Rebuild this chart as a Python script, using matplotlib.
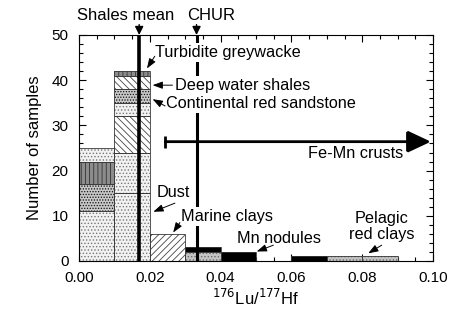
"""Histogram of 176Lu/177Hf in sediments, stacked by sample type."""
import matplotlib

matplotlib.use("Agg")
import matplotlib.pyplot as plt
from matplotlib.ticker import MultipleLocator

plt.rcParams["font.family"] = ["Liberation Sans", "DejaVu Sans"]
plt.rcParams["hatch.linewidth"] = 0.6

# bins of width 0.01 (left edges) and stacked counts, bottom layer first
bin_width = 0.01
bin_left = [0.00, 0.01, 0.02, 0.03, 0.04, 0.05, 0.06, 0.07, 0.08]
dust = [11, 15, 0, 0, 0, 0, 0, 0, 0]
loess = [0, 9, 0, 0, 0, 0, 0, 0, 0]
shales = [0, 8, 0, 0, 0, 0, 0, 0, 0]
other_sed = [0, 3, 0, 0, 0, 0, 0, 0, 0]
red_sandstone = [6, 3, 0, 0, 0, 0, 0, 0, 0]
deep_shales = [0, 3, 0, 0, 0, 0, 0, 0, 0]
greywacke = [5, 1, 0, 0, 0, 0, 0, 0, 0]
other_top = [3, 0, 0, 0, 0, 0, 0, 0, 0]
marine_clays = [0, 0, 6, 0, 0, 0, 0, 0, 0]
pelagic_clays = [0, 0, 0, 2, 0, 0, 0, 1, 1]
mn_nodules = [0, 0, 0, 1, 2, 0, 1, 0, 0]

layers = [dust, loess, shales, other_sed, red_sandstone, deep_shales,
          greywacke, other_top, marine_clays, pelagic_clays, mn_nodules]
# (face, hatch, hatch colour) for each layer
styles = [
    ("#f2f2f2", ".....", "#777777"),
    ("#f2f2f2", ".....", "#777777"),
    ("white", "\\\\\\\\\\", "#444444"),
    ("#f2f2f2", ".....", "#777777"),
    ("#c8c8c8", "......", "#111111"),
    ("white", "\\\\\\\\\\", "#444444"),
    ("#8c8c8c", "||||", "#333333"),
    ("#f2f2f2", ".....", "#777777"),
    ("white", "/////", "#444444"),
    ("#c4c4c4", ".....", "#6a6a6a"),
    ("black", None, "black"),
]

shales_mean = 0.0170
chur = 0.0332
fe_mn_lo, fe_mn_hi, fe_mn_y = 0.0244, 0.100, 26.4

fig = plt.figure(figsize=(4.54, 3.20), dpi=100)
ax = fig.add_axes([79 / 454, 59 / 320, 354 / 454, 226 / 320])

bottom = [0] * len(bin_left)
for counts, (face, hatch, hcol) in zip(layers, styles):
    for i, c in enumerate(counts):
        if c == 0:
            continue
        ax.bar(bin_left[i], c, width=bin_width, bottom=bottom[i], align="edge",
               color=face, hatch=hatch, edgecolor=hcol, linewidth=0, zorder=2)
        ax.bar(bin_left[i], c, width=bin_width, bottom=bottom[i], align="edge",
               fill=False, edgecolor="#3a3a3a", linewidth=0.6, zorder=2.1)
        bottom[i] += c

ax.axvline(shales_mean, color="black", lw=2.6, zorder=3)
ax.axvline(chur, color="black", lw=2.2, zorder=3)

# Fe-Mn crusts range
ax.plot([fe_mn_lo, fe_mn_lo], [fe_mn_y - 1.3, fe_mn_y + 1.3], color="black",
        lw=2, solid_capstyle="butt", zorder=3)
ax.annotate("", xy=(fe_mn_hi, fe_mn_y), xytext=(fe_mn_lo, fe_mn_y),
            arrowprops=dict(arrowstyle="-|>,head_length=1.45,head_width=0.68",
                            lw=2, color="black", shrinkA=0, shrinkB=1.5,
                            mutation_scale=10, joinstyle="bevel"),
            annotation_clip=False, zorder=3)

# labels above the frame
for x, tx, txt in [(shales_mean, 0.01328, "Shales mean"), (chur, 0.0373, "CHUR")]:
    ax.text(tx, 54.4, txt, ha="center", va="center", fontsize=12, clip_on=False)
    ax.annotate("", xy=(x, 50), xytext=(x, 52.3),
                arrowprops=dict(arrowstyle="-|>,head_length=0.5,head_width=0.25",
                                lw=1, color="black", shrinkA=0, shrinkB=0,
                                mutation_scale=10),
                annotation_clip=False)

box = dict(facecolor="white", edgecolor="none", pad=1.5)
labels = [
    ("Turbidite greywacke", 0.02147, 46.2, "left"),
    ("Deep water shales", 0.0271, 38.9, "left"),
    ("Continental red sandstone", 0.0245, 34.9, "left"),
    ("Dust", 0.0220, 15.1, "left"),
    ("Marine clays", 0.0287, 9.8, "left"),
    ("Mn nodules", 0.04455, 5.0, "left"),
    ("Pelagic\nred clays", 0.0855, 7.7, "center"),
    ("Fe-Mn crusts", 0.0916, 23.8, "right"),
]
for txt, x, y, ha in labels:
    ax.text(x, y, txt, ha=ha, va="center", fontsize=11.7, bbox=box, zorder=4,
            linespacing=1.1, multialignment="center")

pointers = [
    ((0.0214, 45.3), (0.0192, 42.6)),
    ((0.0264, 38.9), (0.0208, 38.9)),
    ((0.0243, 34.3), (0.0208, 35.8)),
    ((0.0271, 12.8), (0.0210, 10.9)),
    ((0.0285, 8.5), (0.0266, 6.3)),
    ((0.0549, 3.5), (0.0502, 2.1)),
    ((0.0855, 3.5), (0.0817, 1.7)),
]
for (tx, ty), (hx, hy) in pointers:
    ax.annotate("", xy=(hx, hy), xytext=(tx, ty),
                arrowprops=dict(arrowstyle="-|>,head_length=0.6,head_width=0.22",
                                lw=0.7, color="black", shrinkA=0, shrinkB=0,
                                mutation_scale=10),
                zorder=5)

ax.set_xlim(0, 0.10)
ax.set_ylim(0, 50)
ax.xaxis.set_major_locator(MultipleLocator(0.02))
ax.xaxis.set_minor_locator(MultipleLocator(0.005))
ax.yaxis.set_major_locator(MultipleLocator(10))
ax.yaxis.set_minor_locator(MultipleLocator(2))
ax.xaxis.set_major_formatter(plt.FormatStrFormatter("%.2f"))
ax.tick_params(which="both", direction="in", top=True, right=True,
               labelsize=11, width=0.8, pad=7.5)
ax.tick_params(which="major", length=5)
ax.tick_params(which="minor", length=3)
for s in ax.spines.values():
    s.set_linewidth(0.8)
ax.set_ylabel("Number of samples", fontsize=12, labelpad=7)
ax.set_xlabel(r"$^{176}$Lu/$^{177}$Hf", fontsize=12, labelpad=2)

fig.savefig("out.png", dpi=100)
